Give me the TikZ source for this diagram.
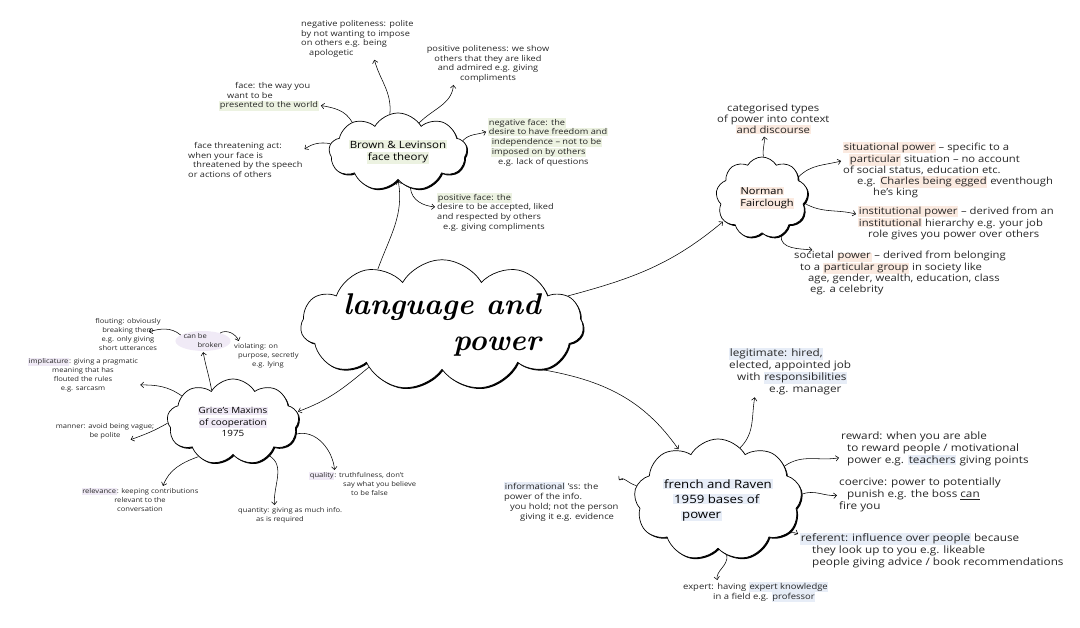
\documentclass[tikz,border=0pt]{standalone}
\usepackage{fontspec}
\usetikzlibrary{shapes.symbols,shapes.geometric,shadows,arrows.meta}
\newfontfamily\hand[FakeStretch=1.15,Ligatures=TeX]{Open Sans}
\definecolor{hlgreen}{HTML}{ECF2E1}
\definecolor{hlpeach}{HTML}{FBEAE0}
\definecolor{hllilac}{HTML}{F0EAF6}
\definecolor{hlblue}{HTML}{E7EDF7}
\newcommand{\hl}[2]{{\setlength{\fboxsep}{0.7pt}\colorbox{#1}{#2}}}
\tikzset{
  bubble/.style={cloud, cloud puffs=9, cloud puff arc=120, cloud ignores aspect,
    draw, line width=0.7pt, fill=white, align=center, inner sep=0pt,
    drop shadow={shadow xshift=1.3pt, shadow yshift=-1.3pt, opacity=1, fill=black}},
  note/.style={align=left, inner sep=1pt, text=black!85},
  noteb/.style={note, font=\hand\fontsize{8}{9.8}\selectfont},
  noteg/.style={note, font=\hand\fontsize{6.6}{9}\selectfont},
  noten/.style={note, font=\hand\fontsize{9.8}{11}\selectfont},
  notef/.style={note, font=\hand\fontsize{10.2}{12}\selectfont},
  notefs/.style={note, font=\hand\fontsize{8.2}{10}\selectfont},
  arr/.style={-{Straight Barb[length=3pt,width=5.5pt]}, line width=0.55pt, shorten >=1pt},
}
\begin{document}
\begin{tikzpicture}[x=1pt,y=1pt]
\useasboundingbox (0,0) rectangle (1080,628);

% clouds
\node[bubble, cloud puffs=11, minimum width=275pt, minimum height=118pt,
  font=\fontsize{30}{36}\selectfont\bfseries\itshape, align=right] (cl) at (442,303) {language and\\power};
\node[bubble, minimum width=138pt, minimum height=78pt, font=\hand\fontsize{10}{12}\selectfont] (cbl) at (398,476)
  {\hl{hlgreen}{Brown \& Levinson}\\\hl{hlgreen}{face theory}};
\node[bubble, minimum width=92pt, minimum height=82pt, font=\hand\fontsize{9.6}{12}\selectfont] (cnf) at (762,430)
  {\hl{hlpeach}{Norman}\\\hspace*{10pt}\hl{hlpeach}{Fairclough}};
\node[bubble, minimum width=132pt, minimum height=86pt, font=\hand\fontsize{8.6}{11.5}\selectfont] (cgr) at (233,206)
  {\hl{hllilac}{Grice's Maxims}\\\hl{hllilac}{of cooperation}\\1975};
\node[bubble, minimum width=168pt, minimum height=122pt, font=\hand\fontsize{11.5}{15}\selectfont, align=left] (cfr) at (718,128)
  {\hl{hlblue}{french and Raven}\\\hspace*{10pt}\hl{hlblue}{1959 bases of}\\\hspace*{18pt}\hl{hlblue}{power}};

% Brown & Levinson
\node[noteb, anchor=north west] (tnegpol) at (300,609) {negative politeness: polite\\by not wanting to impose\\on others e.g. being\\\hspace*{8pt}apologetic};
\node[noteb, align=center] (tpospol) at (488,564) {positive politeness: we show\\others that they are liked\\and admired e.g. giving\\compliments};
\node[noteb, anchor=north west] (tface) at (218,547) {\hspace*{16pt}face: the way you\\\hspace*{8pt}want to be\\\hl{hlgreen}{presented to the world}};
\node[noteb, anchor=north west] (tfta) at (187,487) {\hspace*{6pt}face threatening act:\\when your face is\\\hspace*{5pt}threatened by the speech\\or actions of others};
\node[noteb, anchor=north west] (tnegface) at (487,511) {\hl{hlgreen}{negative face: the}\\\hl{hlgreen}{desire to have freedom and}\\\hspace*{3pt}\hl{hlgreen}{independence -- not to be}\\\hspace*{3pt}\hl{hlgreen}{imposed on by others}\\\hspace*{10pt}e.g. lack of questions};
\node[noteb, anchor=north west] (tposface) at (436,436) {\hl{hlgreen}{positive face: the}\\desire to be accepted, liked\\and respected by others\\\hspace*{6pt}e.g. giving compliments};

% Fairclough
\node[noten, align=center, anchor=north west] (tcat) at (716,525) {categorised types\\of power into context\\\hl{hlpeach}{and discourse}};
\node[noten, anchor=north west] (tsit) at (842,487) {\hl{hlpeach}{situational power} -- specific to a\\\hspace*{6pt}\hl{hlpeach}{particular} situation -- no account\\of social status, education etc.\\\hspace*{14pt}e.g. \hl{hlpeach}{Charles being egged} eventhough\\\hspace*{30pt}he's king};
\node[noten, anchor=north west] (tinst) at (857,423) {\hl{hlpeach}{institutional power} -- derived from an\\\hl{hlpeach}{institutional} hierarchy e.g. your job\\\hspace*{10pt}role gives you power over others};
\node[noten, anchor=north west] (tsoc) at (793,378) {societal \hl{hlpeach}{power} -- derived from belonging\\\hspace*{6pt}to a \hl{hlpeach}{particular group} in society like\\\hspace*{14pt}age, gender, wealth, education, class\\\hspace*{16pt}eg. a celebrity};

% Grice
\node[noteg, ellipse, fill=hllilac, inner sep=0pt] (tbroken) at (203,287) {can be\\\hspace*{14pt}broken};
\node[noteg, align=center] (tflout) at (128,293) {flouting: obviously\\breaking them\\e.g. only giving\\short utterances};
\node[noteg, anchor=north west] (tviol) at (233,286) {violating: on\\\hspace*{4pt}purpose, secretly\\\hspace*{18pt}e.g. lying};
\node[noteg, align=center] (timpl) at (83,253) {\hl{hllilac}{implicature}: giving a pragmatic\\meaning that has\\flouted the rules\\e.g. sarcasm};
\node[noteg, align=center] (tmanner) at (105,197) {manner: avoid being vague;\\be polite};
\node[noteg, align=center] (trel) at (140,128) {\hl{hllilac}{relevance}: keeping contributions\\relevant to the\\conversation};
\node[noteg, anchor=north west] (tquant) at (237,122) {quantity: giving as much info.\\\hspace*{18pt}as is required};
\node[noteg, anchor=north west] (tqual) at (308,157) {\hl{hllilac}{quality}: truthfulness, don't\\\hspace*{34pt}say what you believe\\\hspace*{42pt}to be false};

% French and Raven
\node[notef, anchor=north west] (tlegit) at (728,281) {\hl{hlblue}{legitimate: hired,}\\elected, appointed job\\\hspace*{8pt}with \hl{hlblue}{responsibilities}\\\hspace*{40pt}e.g. manager};
\node[notef, anchor=north west] (treward) at (840,197) {reward: when you are able\\\hspace*{6pt}to reward people / motivational\\\hspace*{6pt}power e.g. \hl{hlblue}{teachers} giving points};
\node[notef, anchor=north west] (tcoer) at (838,151) {coercive: power to potentially\\\hspace*{8pt}punish e.g. the boss \underline{can}\\fire you};
\node[notef, anchor=north west] (tref) at (799,96) {\hl{hlblue}{referent: influence over people} because\\\hspace*{12pt}they look up to you e.g. likeable\\\hspace*{12pt}people giving advice / book recommendations};
\node[notefs, anchor=north west] (texpert) at (682,47) {expert: having \hl{hlblue}{expert knowledge}\\\hspace*{30pt}in a field e.g. \hl{hlblue}{professor}};
\node[notefs, anchor=north west] (tinfo) at (503,147) {\hl{hlblue}{informational} 'ss: the\\power of the info.\\\hspace*{6pt}you hold; not the person\\\hspace*{16pt}giving it e.g. evidence};

% from the centre
\draw[arr] (cl.139) to[out=70,in=-80] (cbl.-90);
\draw[arr] (cl.13) to[out=15,in=220] (cnf.211);
\draw[arr] (cl.210) to[out=220,in=20] (cgr.9);
\draw[arr] (cl.-24) to[out=-10,in=125] (cfr.128);

\draw[arr] (cbl.102) to[out=85,in=-75] (tnegpol.-50);
\draw[arr] (cbl.54) to[out=45,in=-95] (tpospol.210);
\draw[arr] (cbl.147) to[out=120,in=-10] (tface.-10);
\draw[arr] (cbl.173) to[out=170,in=35] (tfta.10);
\draw[arr] (cbl.10) to[out=45,in=200] (tnegface.170);
\draw[arr] (cbl.-71) to[out=-85,in=175] (tposface.175);

\draw[arr] (cnf.88) to[out=100,in=-80] (tcat.240);
\draw[arr] (cnf.30) to[out=45,in=195] (tsit.175);
\draw[arr] (cnf.-7) to[out=-30,in=165] (tinst.175);
\draw[arr] (cnf.-63) to[out=-95,in=175] (tsoc.165);

\draw[arr] (cgr.124) to[out=100,in=-80] (tbroken.south);
\draw[arr] (tbroken.165) to[out=140,in=15] ([xshift=-14pt,yshift=3pt]tflout.east);
\draw[arr] (tbroken.25) to[out=30,in=110] ([xshift=6pt]tviol.north west);
\draw[arr] (cgr.153) to[out=145,in=0] (timpl.-10);
\draw[arr] (cgr.181) to[out=210,in=20] (tmanner.-20);
\draw[arr] (cgr.225) to[out=200,in=70] (trel.30);
\draw[arr] (cgr.-43) to[out=-30,in=95] (tquant.150);
\draw[arr] (cgr.-11) to[out=15,in=95] (tqual.155);

\draw[arr] (cfr.67) to[out=45,in=-100] (tlegit.215);
\draw[arr] (cfr.27) to[out=35,in=190] (treward.185);
\draw[arr] (cfr.4) to[out=20,in=185] (tcoer.west);
\draw[arr] (cfr.-35) to[out=0,in=155] (tref.173);
\draw[arr] (cfr.-81) to[out=-80,in=100] (texpert.164);
\draw[arr] (cfr.170) to[out=170,in=50] (tinfo.20);
\end{tikzpicture}
\end{document}
